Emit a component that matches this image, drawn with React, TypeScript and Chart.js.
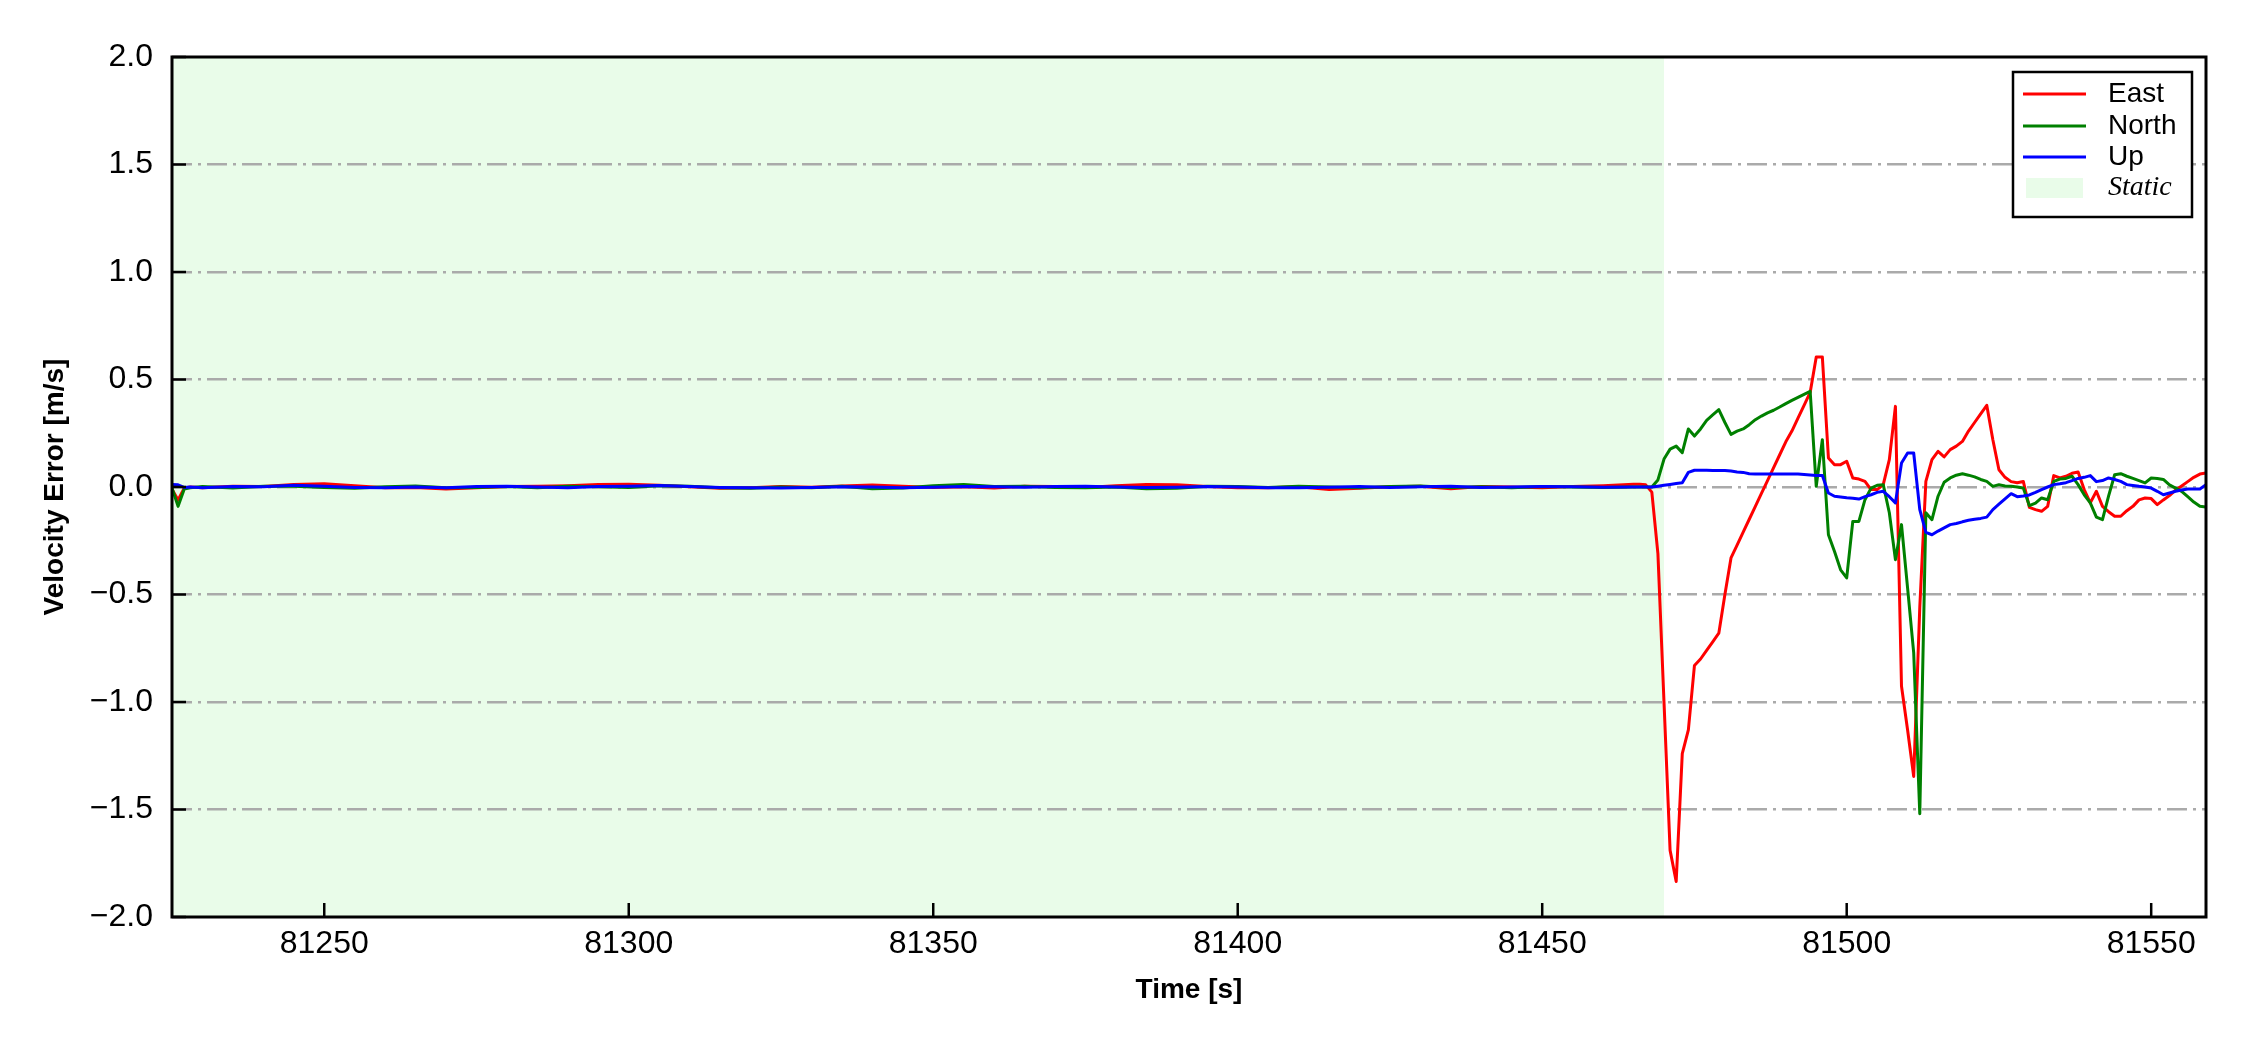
import React, { useEffect, useRef } from "react";
import { Chart, registerables } from "chart.js";

Chart.register(...registerables);

// ---------- data ----------
const staticTimes = [
  81225, 81226, 81227, 81228,
  81230, 81235, 81240, 81245, 81250, 81255, 81260, 81265, 81270, 81275,
  81280, 81285, 81290, 81295, 81300, 81305, 81310, 81315, 81320, 81325,
  81330, 81335, 81340, 81345, 81350, 81355, 81360, 81365, 81370, 81375,
  81380, 81385, 81390, 81395, 81400, 81405, 81410, 81415, 81420, 81425,
  81430, 81435, 81440, 81445, 81450, 81455, 81460, 81465,
];
const motionTimes = [
  81466, 81467, 81468, 81469, 81470, 81471, 81472, 81473, 81474, 81475,
  81476, 81477, 81478, 81479, 81480, 81481, 81482, 81483, 81484, 81485,
  81486, 81487, 81488, 81489, 81490, 81491, 81492, 81493, 81494, 81495,
  81496, 81497, 81498, 81499, 81500, 81501, 81502, 81503, 81504, 81505,
  81506, 81507, 81508, 81509, 81510, 81511, 81512, 81513, 81514, 81515,
  81516, 81517, 81518, 81519, 81520, 81521, 81522, 81523, 81524, 81525,
  81526, 81527, 81528, 81529, 81530, 81531, 81532, 81533, 81534, 81535,
  81536, 81537, 81538, 81539, 81540, 81541, 81542, 81543, 81544, 81545,
  81546, 81547, 81548, 81549, 81550, 81551, 81552, 81553, 81554, 81555,
  81556, 81557, 81558, 81559,
];

const eastStatic = [
  -0.01, -0.06, -0.005, 0.0,
  -0.004, 0.003, 0.002, 0.012, 0.015, 0.006, -0.004, -0.002, -0.009, -0.004,
  0.002, 0.003, 0.006, 0.012, 0.013, 0.008, 0.001, -0.006, -0.003, 0.002,
  -0.001, 0.005, 0.009, 0.003, -0.002, 0.001, -0.005, 0.004, 0.002, -0.002,
  0.006, 0.012, 0.01, 0.002, -0.004, -0.003, 0.001, -0.012, -0.006, 0.001,
  0.004, -0.008, 0.002, 0.0, -0.003, 0.002, 0.006, 0.013,
];
const northStatic = [
  -0.005, -0.09, -0.01, -0.004,
  0.002, -0.005, 0.003, 0.004, -0.002, -0.006, 0.001, 0.005, -0.003, -0.002,
  0.002, -0.004, 0.004, 0.001, -0.002, 0.006, 0.003, -0.004, -0.006, 0.0,
  -0.003, 0.004, -0.008, -0.005, 0.006, 0.012, 0.002, 0.004, -0.002, -0.004,
  0.0, -0.008, -0.006, 0.003, 0.002, -0.002, 0.004, 0.0, -0.003, 0.002,
  0.005, -0.002, 0.001, -0.004, 0.002, 0.0, -0.002, 0.0,
];
const upStatic = [
  0.012, 0.01, -0.002, 0.0,
  -0.004, 0.002, 0.001, 0.008, 0.003, -0.002, -0.004, 0.0, -0.003, 0.002,
  0.004, 0.0, -0.003, 0.002, 0.004, 0.007, 0.002, -0.002, -0.004, -0.005,
  -0.002, 0.001, 0.0, -0.004, -0.001, 0.002, 0.001, -0.001, 0.002, 0.003,
  0.0, -0.002, -0.001, 0.002, 0.0, -0.003, -0.004, -0.001, 0.002, -0.002,
  0.001, 0.003, -0.002, 0.0, 0.002, 0.001, -0.001, 0.0,
];

const eastMotion = [
  0.013, 0.01, -0.024, -0.31, -1.0, -1.69, -1.835, -1.24, -1.13, -0.83,
  -0.8, -0.76, -0.72, -0.68, -0.5, -0.33, -0.27, -0.21, -0.15, -0.09,
  -0.03, 0.03, 0.09, 0.15, 0.21, 0.26, 0.32, 0.38, 0.44, 0.605,
  0.605, 0.135, 0.104, 0.104, 0.12, 0.042, 0.037, 0.026, -0.012, -0.012,
  0.011, 0.127, 0.375, -0.927, -1.13, -1.346, -0.56, 0.026, 0.127, 0.166,
  0.14, 0.174, 0.19, 0.212, 0.26, 0.3, 0.34, 0.38, 0.22, 0.08,
  0.045, 0.025, 0.02, 0.026, -0.095, -0.105, -0.113, -0.09, 0.053, 0.042,
  0.05, 0.064, 0.07, -0.012, -0.074, -0.02, -0.09, -0.115, -0.136, -0.136,
  -0.11, -0.09, -0.06, -0.051, -0.054, -0.082, -0.06, -0.04, -0.015, 0.005,
  0.025, 0.045, 0.06, 0.065,
];
const northMotion = [
  0.0, 0.0, 0.0, 0.033, 0.13, 0.176, 0.19, 0.16, 0.27, 0.237,
  0.27, 0.31, 0.335, 0.36, 0.3, 0.245, 0.26, 0.27, 0.29, 0.313,
  0.33, 0.345, 0.357, 0.372, 0.388, 0.403, 0.417, 0.431, 0.445, 0.003,
  0.22, -0.222, -0.3, -0.385, -0.423, -0.16, -0.16, -0.059, -0.005, 0.008,
  0.011, -0.12, -0.338, -0.175, -0.47, -0.77, -1.52, -0.12, -0.152, -0.043,
  0.022, 0.042, 0.055, 0.062, 0.055, 0.047, 0.035, 0.026, 0.003, 0.011,
  0.005, 0.003, 0.0, -0.005, -0.087, -0.075, -0.051, -0.059, 0.026, 0.037,
  0.04, 0.05, 0.011, -0.036, -0.074, -0.14, -0.152, -0.043, 0.057, 0.062,
  0.05, 0.04, 0.03, 0.019, 0.042, 0.04, 0.035, 0.01, -0.005, -0.02,
  -0.045, -0.07, -0.09, -0.093,
];
const upMotion = [
  0.0, 0.0, 0.0, 0.004, 0.008, 0.012, 0.016, 0.02, 0.068, 0.078,
  0.078, 0.078, 0.077, 0.077, 0.077, 0.074, 0.07, 0.068, 0.062, 0.06,
  0.06, 0.06, 0.06, 0.06, 0.06, 0.06, 0.06, 0.058, 0.056, 0.054,
  0.053, -0.028, -0.043, -0.046, -0.05, -0.052, -0.056, -0.045, -0.036, -0.025,
  -0.02, -0.045, -0.074, 0.112, 0.158, 0.158, -0.105, -0.211, -0.222, -0.205,
  -0.19, -0.175, -0.17, -0.162, -0.155, -0.15, -0.146, -0.14, -0.105, -0.08,
  -0.055, -0.031, -0.045, -0.042, -0.037, -0.025, -0.012, 0.0, 0.011, 0.015,
  0.02, 0.03, 0.04, 0.045, 0.053, 0.025, 0.03, 0.042, 0.035, 0.026,
  0.011, 0.007, 0.003, 0.0, -0.005, -0.02, -0.036, -0.028, -0.02, -0.014,
  -0.009, -0.009, -0.009, 0.011,
];

const seriesLabels = ["East", "North", "Up"];
const seriesColors = ["#ff0000", "#008000", "#0000ff"];
const staticLabel = "Static";
const staticSpan = [81225, 81470];
const xRange = [81225, 81559];
const yRange = [-2, 2];
const xTickStep = 50;
const yTickStep = 0.5;
const xTitle = "Time [s]";
const yTitle = "Velocity Error [m/s]";

const times = [...staticTimes, ...motionTimes];
const seriesValues = [
  [...eastStatic, ...eastMotion],
  [...northStatic, ...northMotion],
  [...upStatic, ...upMotion],
];

const SANS = "'Liberation Sans', Arial, sans-serif";
const SERIF = "'Liberation Serif', 'Times New Roman', serif";
const STATIC_FILL = "rgba(144, 238, 144, 0.2)";

const fmtY = (v: number) => {
  const s = Math.abs(v) < 1e-9 ? "0.0" : v.toFixed(1);
  return s.replace("-", "\u2212");
};

const staticShadePlugin = {
  id: "staticShade",
  beforeDraw(chart: any) {
    const { ctx, chartArea, scales } = chart;
    const x0 = Math.max(scales.x.getPixelForValue(staticSpan[0]), chartArea.left);
    const x1 = Math.min(scales.x.getPixelForValue(staticSpan[1]), chartArea.right);
    ctx.save();
    ctx.fillStyle = "#ffffff";
    ctx.fillRect(0, 0, chart.width, chart.height);
    ctx.fillStyle = STATIC_FILL;
    ctx.fillRect(x0, chartArea.top, x1 - x0, chartArea.bottom - chartArea.top);
    ctx.restore();
  },
};

const framePlugin = {
  id: "frameAndLegend",
  afterDraw(chart: any) {
    const { ctx, chartArea, scales } = chart;
    const { left, right, top, bottom } = chartArea;
    ctx.save();
    // inward ticks
    ctx.strokeStyle = "#000";
    ctx.lineWidth = 2.5;
    const tl = 14;
    scales.y.ticks.forEach((t: any) => {
      const y = scales.y.getPixelForValue(t.value);
      ctx.beginPath();
      ctx.moveTo(left, y);
      ctx.lineTo(left + tl, y);
      ctx.stroke();
    });
    scales.x.ticks.forEach((t: any) => {
      const x = scales.x.getPixelForValue(t.value);
      ctx.beginPath();
      ctx.moveTo(x, bottom);
      ctx.lineTo(x, bottom - tl);
      ctx.stroke();
    });
    // frame
    ctx.lineWidth = 3;
    ctx.strokeRect(left, top, right - left, bottom - top);

    // legend
    const bw = 179;
    const bh = 145;
    const bx = right - 14 - bw;
    const by = top + 15;
    ctx.fillStyle = "#ffffff";
    ctx.fillRect(bx, by, bw, bh);
    ctx.lineWidth = 2.5;
    ctx.strokeStyle = "#000";
    ctx.strokeRect(bx, by, bw, bh);
    const rows = [22, 54, 85, 116];
    ctx.textBaseline = "middle";
    ctx.textAlign = "left";
    chart.data.datasets.forEach((ds: any, i: number) => {
      const y = by + rows[i];
      ctx.strokeStyle = ds.borderColor;
      ctx.lineWidth = 3;
      ctx.beginPath();
      ctx.moveTo(bx + 10, y);
      ctx.lineTo(bx + 73, y);
      ctx.stroke();
      ctx.fillStyle = "#000";
      ctx.font = `28px ${SANS}`;
      ctx.fillText(ds.label, bx + 95, y);
    });
    const ys = by + rows[3];
    ctx.fillStyle = STATIC_FILL;
    ctx.fillRect(bx + 13, ys - 10, 57, 20);
    ctx.fillStyle = "#000";
    ctx.font = `italic 28px ${SERIF}`;
    ctx.fillText(staticLabel, bx + 95, ys);
    ctx.restore();
  },
};

export default function App() {
  const ref = useRef<HTMLCanvasElement>(null);

  useEffect(() => {
    document.body.style.margin = "0";
    const canvas = ref.current;
    if (!canvas) return;
    const datasets = seriesLabels.map((label, i) => ({
      label,
      data: times.map((t, k) => ({ x: t, y: seriesValues[i][k] })),
      borderColor: seriesColors[i],
      backgroundColor: seriesColors[i],
      borderWidth: 3,
      pointRadius: 0,
      tension: 0,
      fill: false,
      borderJoinStyle: "round" as const,
      order: 3 - i,
    }));

    const chart = new Chart(canvas, {
      type: "line",
      data: { datasets },
      options: {
        responsive: false,
        animation: false,
        devicePixelRatio: 1,
        layout: { padding: { left: 0, right: 44, top: 57, bottom: 0 } },
        plugins: {
          legend: { display: false },
          tooltip: { enabled: false },
        },
        scales: {
          x: {
            type: "linear",
            min: xRange[0],
            max: xRange[1],
            afterFit: (s: any) => {
              s.height = 133;
            },
            border: { display: false },
            grid: { display: false, drawTicks: false },
            ticks: {
              stepSize: xTickStep,
              includeBounds: false,
              autoSkip: false,
              maxRotation: 0,
              padding: 8,
              color: "#000",
              font: { family: SANS, size: 32 },
              callback: (v: any) => String(v),
            },
            title: {
              display: true,
              text: xTitle,
              color: "#000",
              font: { family: SANS, size: 28, weight: "bold" },
              padding: { top: 0, bottom: 43 },
            },
          },
          y: {
            type: "linear",
            min: yRange[0],
            max: yRange[1],
            afterFit: (s: any) => {
              s.width = 172;
            },
            border: { display: false, dash: [20, 6, 3, 6] },
            grid: {
              drawTicks: false,
              lineWidth: 2.5,
              color: (c: any) =>
                c.tick && Math.abs(Math.abs(c.tick.value) - 2) < 1e-9 ? "rgba(0,0,0,0)" : "#aaaaaa",
            },
            ticks: {
              stepSize: yTickStep,
              autoSkip: false,
              padding: 19,
              color: "#000",
              font: { family: SANS, size: 32 },
              callback: (v: any) => fmtY(Number(v)),
            },
            title: {
              display: true,
              text: yTitle,
              color: "#000",
              font: { family: SANS, size: 28, weight: "bold" },
              padding: { top: 38, bottom: 0 },
            },
          },
        },
      } as any,
      plugins: [staticShadePlugin, framePlugin],
    });
    return () => chart.destroy();
  }, []);

  return (
    <div style={{ position: "fixed", left: 0, top: 0, width: 2250, height: 1050, background: "#fff" }}>
      <canvas ref={ref} width={2250} height={1050} style={{ width: 2250, height: 1050, display: "block" }} />
    </div>
  );
}
